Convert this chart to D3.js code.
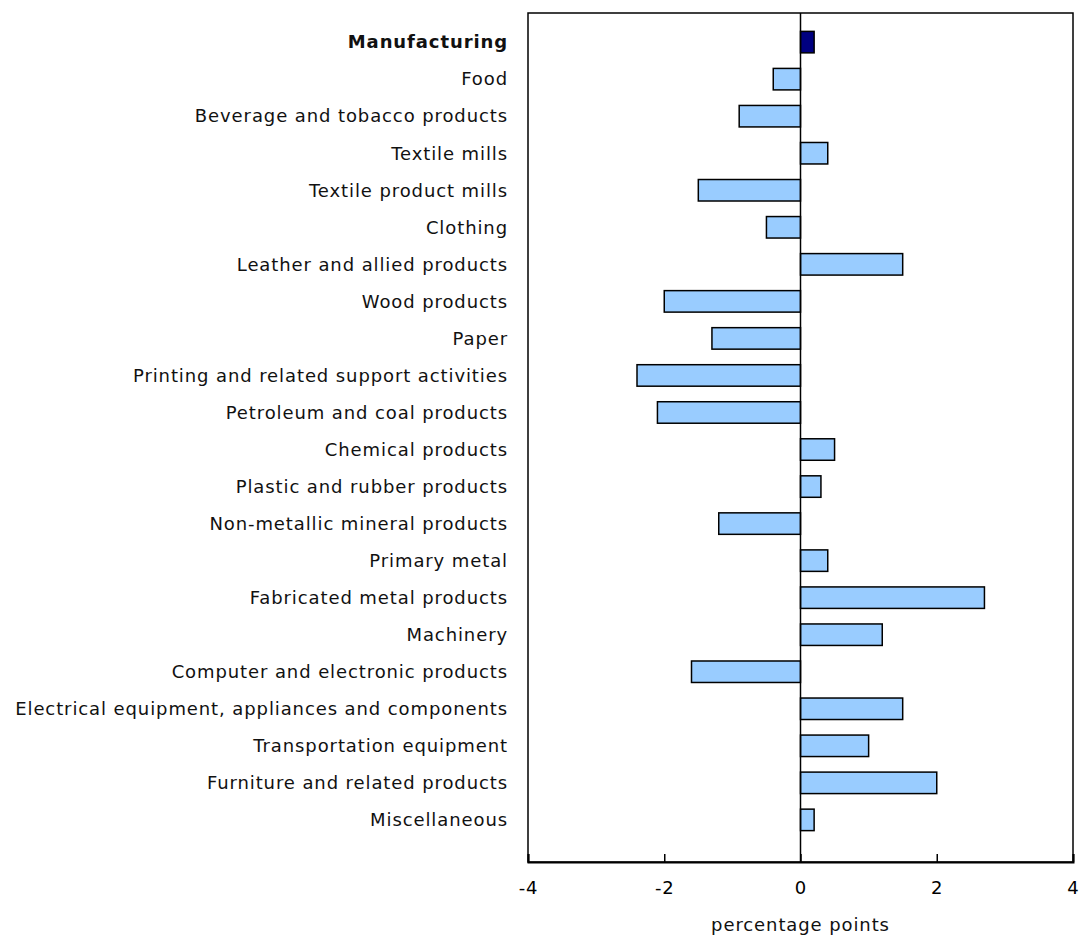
<!DOCTYPE html>
<html>
<head>
<meta charset="utf-8">
<script src="https://cdn.jsdelivr.net/npm/d3@7"></script>
<style>
  body { margin: 0; background: #fff; }
  svg { display: block; font-family: "DejaVu Sans", Verdana, sans-serif; }
</style>
</head>
<body>
<div id="chart"></div>
<script>
const categories = [
  "Manufacturing", "Food", "Beverage and tobacco products", "Textile mills",
  "Textile product mills", "Clothing", "Leather and allied products", "Wood products",
  "Paper", "Printing and related support activities", "Petroleum and coal products",
  "Chemical products", "Plastic and rubber products", "Non-metallic mineral products",
  "Primary metal", "Fabricated metal products", "Machinery",
  "Computer and electronic products", "Electrical equipment, appliances and components",
  "Transportation equipment", "Furniture and related products", "Miscellaneous"
];
const values = [
  0.2, -0.4, -0.9, 0.4, -1.5, -0.5, 1.5, -2.0, -1.3, -2.4, -2.1,
  0.5, 0.3, -1.2, 0.4, 2.7, 1.2, -1.6, 1.5, 1.0, 2.0, 0.2
];
const xTicks = [-4, -2, 0, 2, 4];
const xTitle = "percentage points";

const width = 1080, height = 936;
const plotLeft = 528, plotRight = 1073, plotTop = 13, plotBottom = 862;
const fontSize = 18, spacing = "0.9px";

const svg = d3.select("#chart").append("svg")
  .attr("width", width)
  .attr("height", height);

const x = d3.scaleLinear().domain([-4, 4]).range([plotLeft, plotRight]);
const y = d3.scaleBand().domain(categories).range([23.6, 838.4]).paddingInner(0.42).paddingOuter(0.21);

// frame
svg.append("rect")
  .attr("x", plotLeft).attr("y", plotTop)
  .attr("width", plotRight - plotLeft).attr("height", plotBottom - plotTop)
  .attr("fill", "none").attr("stroke", "#000").attr("stroke-width", 1.5);

// bars
svg.append("g").selectAll("rect")
  .data(categories)
  .enter()
  .append("rect")
  .attr("x", (d, i) => x(Math.min(0, values[i])))
  .attr("y", d => y(d))
  .attr("width", (d, i) => Math.abs(x(values[i]) - x(0)))
  .attr("height", y.bandwidth())
  .attr("fill", (d, i) => i === 0 ? "#000080" : "#99ccff")
  .attr("stroke", "#000")
  .attr("stroke-width", 1.5);

// zero line
svg.append("line")
  .attr("x1", x(0)).attr("x2", x(0))
  .attr("y1", plotTop).attr("y2", plotBottom)
  .attr("stroke", "#000").attr("stroke-width", 1.5);

// x axis, ticks pointing inward
const xAxis = svg.append("g")
  .attr("transform", `translate(0,${plotBottom})`)
  .call(d3.axisBottom(x).tickValues(xTicks).tickSize(-8).tickPadding(19).tickFormat(d => String(d)));
xAxis.select(".domain").attr("stroke-width", 2);
xAxis.selectAll(".tick line").attr("stroke-width", 1.5);
xAxis.selectAll("text")
  .attr("font-family", "DejaVu Sans, Verdana, sans-serif")
  .attr("font-size", fontSize)
  .attr("letter-spacing", spacing)
  .attr("fill", "#000");

// category labels
svg.append("g").selectAll("text")
  .data(categories)
  .enter()
  .append("text")
  .attr("x", plotLeft - 20)
  .attr("y", d => y(d) + y.bandwidth() / 2)
  .attr("dy", "0.35em")
  .attr("text-anchor", "end")
  .attr("font-size", fontSize)
  .attr("letter-spacing", spacing)
  .attr("font-weight", (d, i) => i === 0 ? "bold" : "normal")
  .attr("fill", "#111")
  .text(d => d);

svg.append("text")
  .attr("x", x(0))
  .attr("y", 931)
  .attr("text-anchor", "middle")
  .attr("font-size", fontSize)
  .attr("letter-spacing", spacing)
  .attr("fill", "#111")
  .text(xTitle);
</script>
</body>
</html>
